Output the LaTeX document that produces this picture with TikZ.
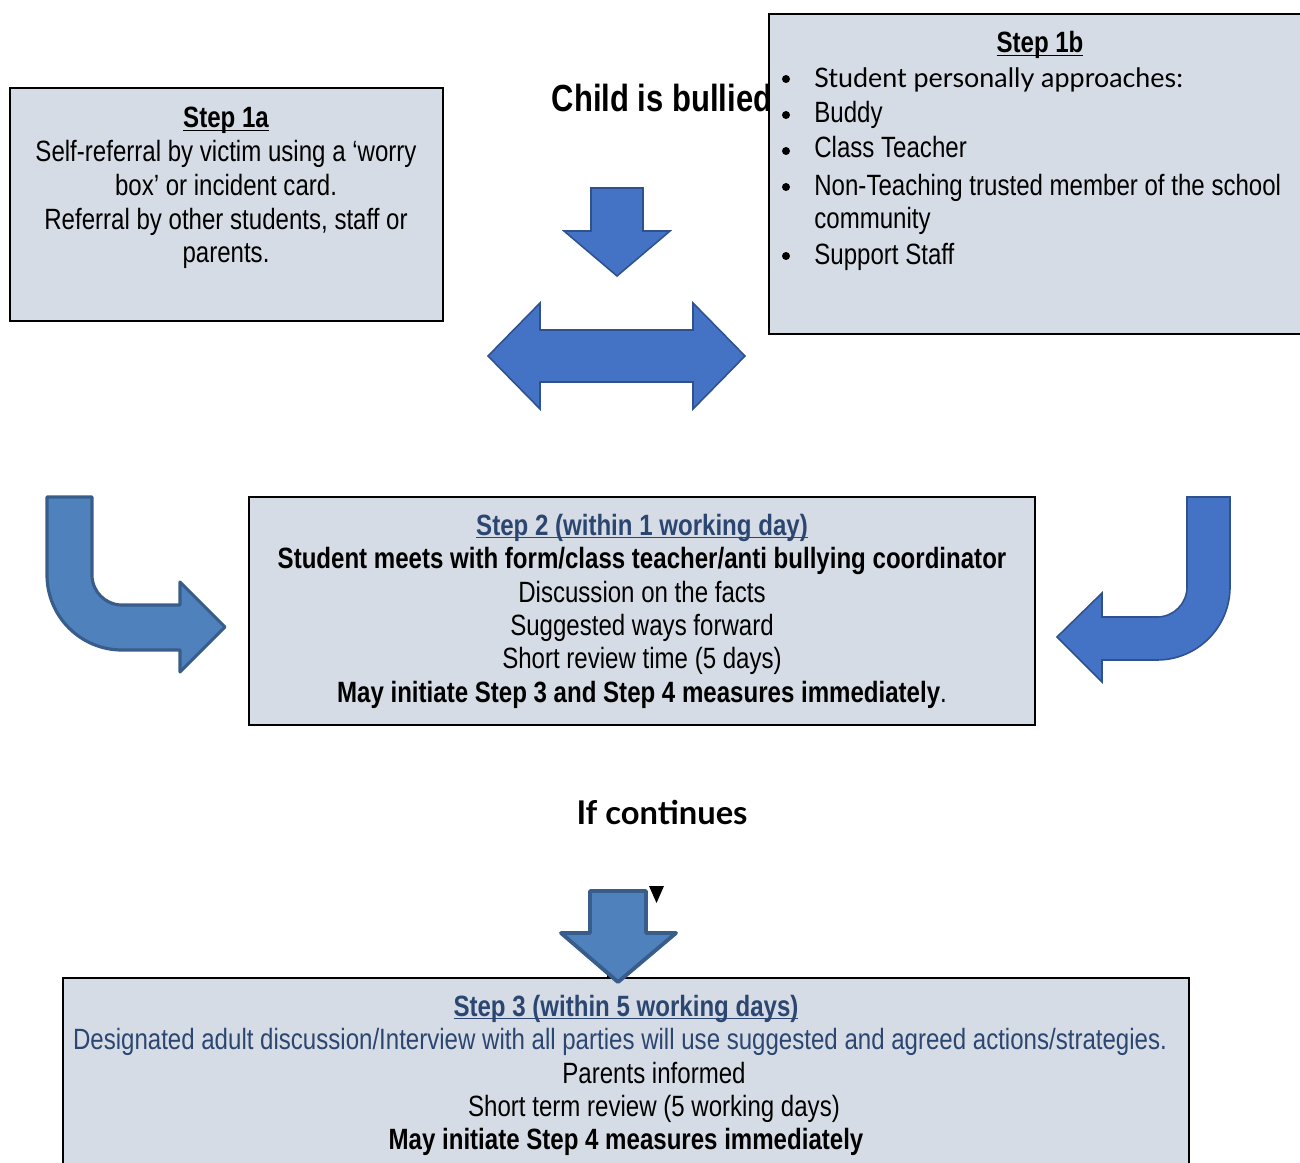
\documentclass[tikz,border=0pt]{standalone}
\usepackage{fontspec}
\setmainfont{Liberation Sans}[FakeStretch=0.82]
\newfontfamily\gillfont{Lato}
\usepackage{xcolor}

\definecolor{boxfill}{HTML}{D6DCE5}
\definecolor{arrowA}{HTML}{4F81BD}
\definecolor{arrowAline}{HTML}{385D8A}
\definecolor{arrowB}{HTML}{4472C4}
\definecolor{arrowBline}{HTML}{2F528F}
\definecolor{titleblue}{HTML}{2B4670}

\begin{document}
\begin{tikzpicture}[x=0.02cm,y=-0.02cm,
    stepbox/.style={draw=black,line width=1pt,fill=boxfill},
    txt/.style={inner sep=0pt,anchor=base,font=\fontsize{16.7}{19}\selectfont},
    bigtxt/.style={inner sep=0pt,anchor=base,font=\fontsize{21.5}{25}\selectfont\bfseries},
    dotmark/.style={circle,fill=black,inner sep=0pt,minimum size=0.16cm},
    arrowa/.style={fill=arrowA,draw=arrowAline,line width=1.8pt,line join=round},
    arrowb/.style={fill=arrowB,draw=arrowBline,line width=0.9pt,line join=miter}]
    \useasboundingbox (0,0) rectangle (1300,1162);

    % Boxes
    \draw[stepbox] (10,88) rectangle (443,321);
    \draw[stepbox] (769,14) rectangle (1303,334);
    \draw[stepbox] (249,497) rectangle (1035,725);
    \draw[stepbox] (63,978) rectangle (1189,1166);

    % Step 1a
    \node[txt] (s1a-title) at (226,128) {\textbf{\underbar{Step 1a}}};
    \node[txt] (s1a-l1) at (226,162) {Self-referral by victim using a ‘worry};
    \node[txt] (s1a-l2) at (226,195) {box’ or incident card.};
    \node[txt] (s1a-l3) at (226,229) {Referral by other students, staff or};
    \node[txt] (s1a-l4) at (226,262) {parents.};

    % Step 1b
    \node[txt] (s1b-title) at (1040,53) {\textbf{\underbar{Step 1b}}};
    \foreach \y [count=\i] in {79,115,151,187,256}
        \node[dotmark] (dot\i) at (786,\y) {};
    \node[txt,anchor=base west,font=\fontsize{15.3}{19}\gillfont] (s1b-l1) at (814,88) {Student personally approaches:};
    \node[txt,anchor=base west] (s1b-l2) at (814,123) {Buddy};
    \node[txt,anchor=base west] (s1b-l3) at (814,158) {Class Teacher};
    \node[txt,anchor=base west] (s1b-l4) at (814,195) {Non-Teaching trusted member of the school};
    \node[txt,anchor=base west] (s1b-l5) at (814,228) {community};
    \node[txt,anchor=base west] (s1b-l6) at (814,264) {Support Staff};

    \node[bigtxt] (bullied) at (662,112) {Child is bullied};

    % Step 2
    \node[txt,text=titleblue] (s2-title) at (642,535) {\textbf{\underbar{Step 2 (within 1 working day)}}};
    \node[txt] (s2-l1) at (642,568) {\textbf{Student meets with form/class teacher/anti bullying coordinator}};
    \node[txt] (s2-l2) at (642,602) {Discussion on the facts};
    \node[txt] (s2-l3) at (642,635) {Suggested ways forward};
    \node[txt] (s2-l4) at (642,668) {Short review time (5 days)};
    \node[txt] (s2-l5) at (642,702) {\textbf{May initiate Step 3 and Step 4 measures immediately}.};

    \node[inner sep=0pt,anchor=base,font=\fontsize{18.6}{22}\selectfont\gillfont\bfseries] (cont) at (662,824) {If continues};

    % Step 3
    \node[txt,text=titleblue] (s3-title) at (626,1016) {\textbf{\underbar{Step 3 (within 5 working days)}}};
    \node[txt,text=titleblue] (s3-l1) at (620,1049) {Designated adult discussion/Interview with all parties will use suggested and agreed actions/strategies.};
    \node[txt] (s3-l2) at (654,1083) {Parents informed};
    \node[txt] (s3-l3) at (654,1116) {Short term review (5 working days)};
    \node[txt] (s3-l4) at (626,1149) {\textbf{May initiate Step 4 measures immediately}};

    % Block arrows
    \draw[arrowb] (591,188) -- (643,188) -- (643,231) -- (670,231) -- (617,276) -- (564,231) -- (591,231) -- cycle;
    \draw[arrowb] (488,356) -- (540,303) -- (540,330) -- (693,330) -- (693,303) -- (745,356)
        -- (693,409) -- (693,382) -- (540,382) -- (540,409) -- cycle;
    \draw[arrowa] (47,497) -- (92,497) -- (92,575) .. controls (92,591.6) and (105.4,605) .. (122,605)
        -- (180,605) -- (180,582) -- (225,627) -- (180,672) -- (180,650) -- (122,650)
        .. controls (80.6,650) and (47,616.4) .. (47,575) -- cycle;
    \draw[arrowb] (1187,497) -- (1230,497) -- (1230,587) .. controls (1230,627.3) and (1197.3,660) .. (1157,660)
        -- (1102,660) -- (1102,682) -- (1057,637) -- (1102,593) -- (1102,617) -- (1157,617)
        .. controls (1173.6,617) and (1187,603.6) .. (1187,587) -- cycle;
    \draw[black,line width=0.6pt] (608,968) -- (608,978);
    \draw[arrowa,line width=2.2pt] (590,891) -- (646,891) -- (646,933) -- (676,933) -- (618,982) -- (561,933) -- (590,933) -- cycle;
    \fill[black] (649,886) -- (664,886) -- (656.5,903) -- cycle;
\end{tikzpicture}
\end{document}
